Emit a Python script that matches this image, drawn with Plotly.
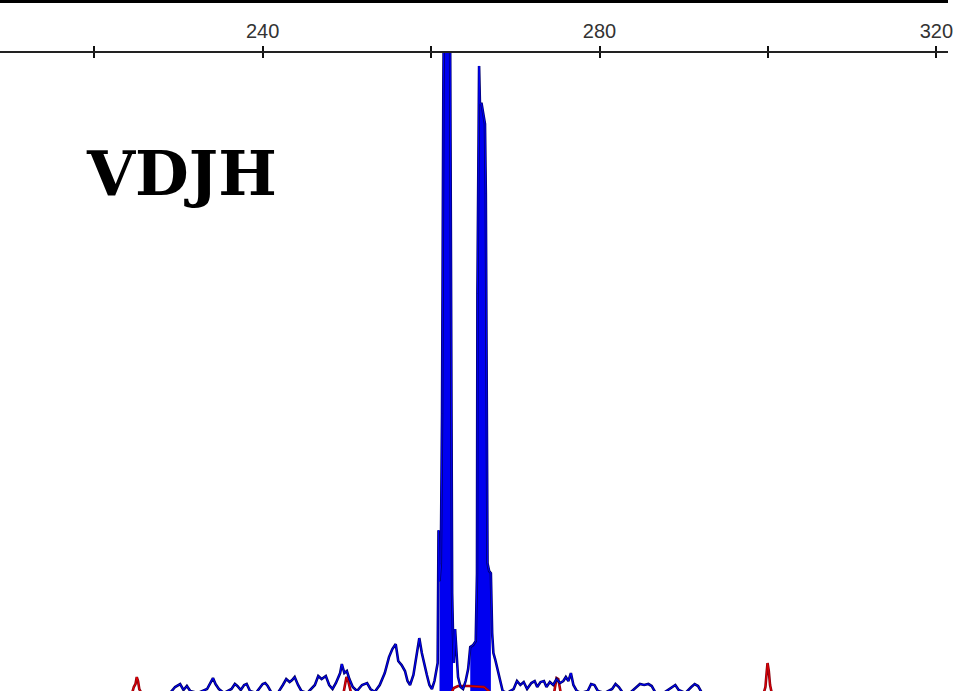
import plotly.graph_objects as go

# Fragment size axis (bp) and tick labelling
size_ticks = [220, 240, 260, 280, 300, 320]
size_tick_text = ["", "240", "", "280", "", "320"]

# Blue channel (VDJH product): fragment size in bp and signal in RFU
blue_bp = [225.0, 229.0, 229.6, 230.2, 230.6, 231.0, 231.4, 232.3, 233.4, 233.8, 234.1, 234.4, 234.8,
           235.4, 236.3, 236.7, 237.0, 237.4, 237.8, 238.1, 238.5, 239.2, 239.7, 240.0, 240.3, 240.6,
           241.0, 241.8, 242.4, 242.8, 243.2, 243.5, 243.8, 244.2, 244.6, 245.3, 246.2, 246.6, 247.0,
           247.5, 247.9, 248.3, 248.7, 249.2, 249.4, 249.7, 250.0, 250.3, 250.7, 251.2, 251.8, 252.4,
           252.8, 253.3, 253.9, 254.5, 255.0, 255.4, 255.8, 256.1, 256.5, 256.9, 257.2, 257.5, 257.9,
           258.3, 258.6, 258.9, 259.2, 259.5, 259.8, 260.1, 260.4, 260.6, 260.78, 260.88, 261.0,
           261.15, 261.3, 261.45, 261.55, 261.65, 261.85, 262.05, 262.15, 262.25, 262.32, 262.4, 262.5,
           262.6, 262.7, 262.85, 263.0, 263.2, 263.5, 263.8, 264.1, 264.4, 264.65, 265.0, 265.3,
           265.45, 265.5, 265.6, 265.7, 265.8, 266.0, 266.2, 266.4, 266.5, 266.6, 266.7, 266.9,
           267.1, 267.25, 267.4, 267.6, 267.9, 268.2, 268.5, 269.0, 269.8, 270.2, 270.6, 271.0, 271.4,
           271.9, 272.3, 272.6, 273.0, 273.4, 273.7, 274.1, 274.5, 274.9, 275.3, 275.7, 276.0, 276.3,
           276.6, 276.9, 277.3, 277.8, 278.6, 279.0, 279.4, 279.8, 280.6, 281.5, 281.9, 282.3, 282.7,
           283.6, 284.4, 284.8, 285.3, 285.8, 286.2, 286.6, 287.6, 288.6, 289.0, 289.4, 290.2, 290.9,
           291.3, 291.7, 292.1, 293.0, 300.0]
blue_rfu = [0, 0, 30, 45, 15, 35, 10, 0, 20, 55, 75, 45, 20,
            0, 20, 45, 35, 15, 40, 45, 10, 0, 30, 45, 50, 35,
            5, 0, 40, 70, 55, 65, 80, 40, 10, 0, 40, 85, 70,
            85, 40, 20, 50, 100, 145, 100, 110, 70, 30, 10, 40, 50,
            20, 5, 40, 100, 180, 220, 245, 160, 140, 110, 60, 40, 90,
            210, 275, 200, 140, 90, 40, 20, 60, 120, 150, 815, 560,
            650, 1400, 3000, 4200, 5200, 5300, 5200, 4600, 3400, 2000, 1000, 500,
            300, 150, 320, 200, 80, 30, 20, 60, 120, 230, 240, 260,
            600, 2000, 2900, 3140, 2950, 2950, 2900, 2850, 2500, 1200, 650, 610,
            600, 300, 200, 170, 120, 60, 10, 0, 20, 60, 40, 55, 20,
            50, 60, 30, 55, 60, 30, 55, 40, 70, 50, 60, 80, 60,
            100, 40, 10, 0, 10, 45, 40, 10, 0, 20, 45, 30, 5,
            0, 30, 45, 40, 45, 35, 5, 0, 30, 40, 15, 0, 30,
            45, 35, 5, 0, 0]

# Red channel (size standard / background)
red_bp = [200.0, 224.5, 224.7, 224.9, 225.05, 225.2, 225.35, 225.6,
          249.6, 249.8, 249.95, 250.1, 250.3, 250.5,
          262.4, 262.7, 263.2, 264.5, 266.3, 266.8, 267.1,
          274.6, 274.75, 274.9, 275.1, 275.25, 275.4,
          299.5, 299.7, 299.85, 299.95, 300.1, 300.25, 300.45, 330.0]
red_rfu = [0, 0, 30, 45, 80, 60, 20, 0,
           0, 40, 80, 70, 30, 0,
           0, 25, 35, 35, 30, 10, 0,
           0, 40, 75, 70, 30, 0,
           0, 30, 105, 150, 110, 40, 0, 0]

# Called peaks are shaded between these sizes
peak_windows = [(261.0, 262.6), (264.65, 267.1)]

fig = go.Figure()

# Shaded areas under the called peaks
for lo, hi in peak_windows:
    xs = [b for b in blue_bp if lo <= b <= hi]
    ys = [v for b, v in zip(blue_bp, blue_rfu) if lo <= b <= hi]
    fig.add_trace(go.Scatter(x=xs, y=ys, mode="lines", fill="tozeroy",
                             fillcolor="#0000f0", line=dict(color="#0000f0", width=1),
                             hoverinfo="skip", showlegend=False))

# Each channel: dark outline underneath, bright core on top
for xs, ys, dark, bright in [(red_bp, red_rfu, "#8a0010", "#e80000"),
                             (blue_bp, blue_rfu, "#00006e", "#0000ff")]:
    fig.add_trace(go.Scatter(x=xs, y=ys, mode="lines",
                             line=dict(color=dark, width=2.6), showlegend=False))
    fig.add_trace(go.Scatter(x=xs, y=ys, mode="lines",
                             line=dict(color=bright, width=1.0), showlegend=False))

axis_range = [208.81, 321.38]
tick_font = dict(family="Liberation Sans, Arial, sans-serif", size=20, color="#333333")

fig.update_layout(
    width=953, height=691,
    margin=dict(l=0, r=0, t=0, b=0),
    paper_bgcolor="white", plot_bgcolor="white",
    showlegend=False,
    xaxis=dict(range=axis_range, side="top", anchor="y",
               tickmode="array", tickvals=size_ticks, ticktext=size_tick_text,
               ticks="outside", ticklen=5, tickwidth=1.5, tickcolor="#111111",
               showline=True, linecolor="#222222", linewidth=2,
               showgrid=False, zeroline=False,
               ticklabeloverflow="allow", tickfont=tick_font),
    xaxis2=dict(range=axis_range, overlaying="x", matches="x", side="top", anchor="y",
                tickmode="array", tickvals=size_ticks,
                ticks="inside", ticklen=5, tickwidth=1.5, tickcolor="#111111",
                showticklabels=False, showline=False, showgrid=False, zeroline=False),
    yaxis=dict(range=[10, 3205], domain=[0, 1 - 53 / 691],
               visible=False, showgrid=False, zeroline=False),
)

# Keep the secondary axis alive with an invisible trace
fig.add_trace(go.Scatter(x=[size_ticks[0]], y=[0], xaxis="x2", mode="markers",
                         marker=dict(opacity=0), hoverinfo="skip", showlegend=False))

# Heavy rule along the top edge
fig.add_shape(type="rect", xref="paper", yref="paper", x0=0, x1=1,
              y0=1 - 3 / 691, y1=1, fillcolor="black", line=dict(width=0))

fig.add_annotation(text="<b>VDJH</b>", xref="paper", yref="paper",
                   x=182 / 953, y=1 - 174 / 691, xanchor="center", yanchor="middle",
                   showarrow=False,
                   font=dict(family="DejaVu Serif", size=62, color="black"))

fig.write_html("out.html")
